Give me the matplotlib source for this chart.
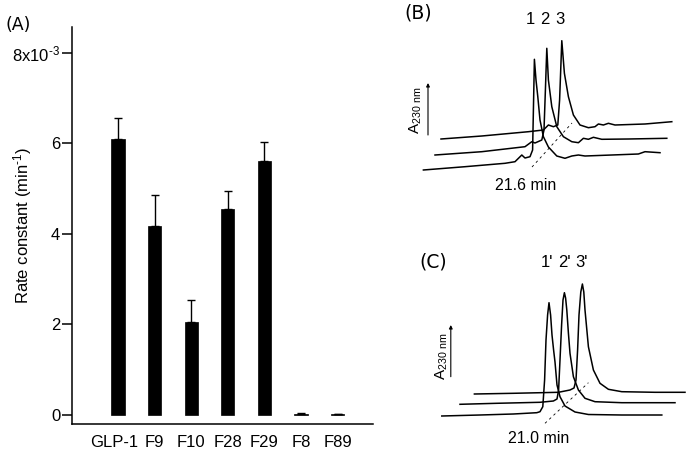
import matplotlib
matplotlib.use("Agg")
import matplotlib.pyplot as plt
from matplotlib.transforms import ScaledTranslation

plt.rcParams['font.family'] = ['Liberation Sans', 'DejaVu Sans']
plt.rcParams['mathtext.fontset'] = 'custom'
plt.rcParams['mathtext.rm'] = 'Liberation Sans'
plt.rcParams['mathtext.it'] = 'Liberation Sans:italic'
plt.rcParams['mathtext.bf'] = 'Liberation Sans:bold'

# ---------------- Panel A data (rate constants, units of 1e-3 min^-1) ----------------
categories = ["GLP-1", "F9", "F10", "F28", "F29", "F8", "F89"]
rate_constant_e3 = [6.10, 4.18, 2.06, 4.55, 5.61, 0.02, 0.01]
rate_error_e3 = [0.46, 0.68, 0.49, 0.40, 0.42, 0.02, 0.0]
ytick_values = [0, 2, 4, 6, 8]
ytick_labels = ["0", "2", "4", "6", r"8x10$^{\text{-3}}$"]

# ---------------- Panel B chromatograms (time in min, absorbance arb. units, offset traces) ----------------
b1_t = [16.17, 18.25, 20.25, 20.75, 21.09, 21.25, 21.50, 21.63, 21.68, 21.72, 21.80, 21.89, 22.00,
        22.17, 22.42, 22.84, 23.25, 23.59, 23.92, 24.25, 25.59, 26.92, 27.25, 28.00]
b1_a = [10, 13.3, 16.7, 18.3, 25, 22, 23.3, 30, 80, 120.7, 100, 83.3, 60,
        43.3, 33, 24, 21.7, 24, 25, 24, 25, 26, 28.3, 27.3]
b2_t = [16.75, 19.09, 21.25, 21.59, 21.75, 22.09, 22.20, 22.27, 22.34, 22.42, 22.59, 22.84, 23.17,
        23.59, 23.92, 24.17, 24.42, 24.67, 25.09, 26.42, 28.34]
b2_a = [25, 28.3, 33.3, 38.3, 37, 40, 50, 90, 131.7, 100, 73.3, 53.3, 43.3,
        38.3, 37.3, 41.7, 40.7, 42.7, 40.7, 41, 41.7]
b3_t = [17.05, 19.09, 21.42, 22.17, 22.42, 22.67, 22.89, 22.98, 23.09, 23.22, 23.42, 23.67, 24.00,
        24.42, 24.75, 24.92, 25.17, 25.42, 25.75, 27.25, 28.59]
b3_a = [41, 44, 48.3, 50, 55, 53.3, 55, 80, 139.3, 106.7, 83.3, 65, 55,
        52.3, 53.3, 56, 55, 56.7, 55, 56, 58.3]
b_dash_t = [21.6, 23.6]
b_dash_a = [13, 57]
b_peak_labels = ["1", "2", "3"]
b_peak_label_t = [21.50, 22.22, 23.02]

# ---------------- Panel C chromatograms ----------------
c1_t = [15.94, 17.85, 19.52, 20.69, 20.85, 20.99, 21.08, 21.15, 21.23, 21.30, 21.38, 21.45, 21.53,
        21.60, 21.70, 21.85, 22.10, 22.60, 23.27, 24.94, 26.94]
c1_a = [14, 15, 16, 17.3, 18.3, 23.3, 50, 90, 115, 127.3, 115, 95, 80,
        68, 45, 33.3, 24, 18, 15.5, 15, 15]
c2_t = [16.85, 18.69, 20.85, 21.52, 21.70, 21.78, 21.85, 21.93, 22.00, 22.07, 22.13, 22.19, 22.27,
        22.35, 22.52, 22.77, 23.10, 23.60, 24.94, 27.60]
c2_a = [25.7, 26.7, 27.7, 29, 31, 40, 70, 105, 130, 137.3, 132, 120, 97,
        76.7, 53.3, 40, 31.7, 28.3, 27.3, 27.3]
c3_t = [17.57, 19.52, 21.77, 22.35, 22.55, 22.65, 22.73, 22.80, 22.89, 22.97, 23.04, 23.10, 23.27,
        23.52, 23.85, 24.27, 24.94, 26.60, 28.10]
c3_a = [36, 36.7, 37.7, 40, 42, 50, 80, 115, 138, 146, 138, 120, 83.3,
        60, 46.7, 40.7, 38.3, 37.7, 37.7]
c_dash_t = [21.1, 23.27]
c_dash_a = [6.7, 47.3]
c_peak_labels = ["1'", "2'", "3'"]
c_peak_label_t = [21.18, 22.07, 22.93]

fig = plt.figure(figsize=(6.95, 4.57), dpi=100)

# ---------------- Panel A ----------------
axA = fig.add_axes([72 / 695, 1 - 424 / 457, 301 / 695, 397 / 457])
x = list(range(len(categories)))
axA.bar(x, rate_constant_e3, width=0.36, color='black', edgecolor='black', linewidth=0.5)
axA.errorbar(x, rate_constant_e3, yerr=[[0] * len(x), rate_error_e3], fmt='none',
             ecolor='black', elinewidth=1.0, capsize=3.0, capthick=1.0)
axA.set_xlim(-1.257, 6.967)
axA.set_ylim(-0.2, 8.575)
axA.set_yticks(ytick_values)
axA.set_yticklabels(ytick_labels)
axA.set_xticks(x)
axA.set_xticklabels(categories)
for s in ['top', 'right']:
    axA.spines[s].set_visible(False)
for s in ['left', 'bottom']:
    axA.spines[s].set_linewidth(1.1)
axA.tick_params(axis='y', direction='out', length=7, width=1.1, labelsize=12, pad=1.5)
axA.tick_params(axis='x', length=0, labelsize=12, pad=8)
# first category label sits slightly left of its bar in the original
lbl0 = axA.get_xticklabels()[0]
lbl0.set_transform(lbl0.get_transform() + ScaledTranslation(-4 / 100, 0, fig.dpi_scale_trans))
axA.set_ylabel(r"Rate constant (min$^{\text{-1}}$)", fontsize=12)
axA.yaxis.set_label_coords(-0.125, 0.5)
fig.text(18 / 695, 1 - 24.5 / 457, "(A)", ha='center', va='center', fontsize=12.5,
         family=['DejaVu Sans'])

# ---------------- Panel B ----------------
axB = fig.add_axes([400 / 695, 1 - 200 / 457, 295 / 695, 200 / 457])
axB.set_xlim(15.0, 29.75)
axB.set_ylim(-20, 180)
axB.axis('off')
for tt, aa in [(b1_t, b1_a), (b2_t, b2_a), (b3_t, b3_a)]:
    axB.plot(tt, aa, color='black', lw=1.1, solid_joinstyle='round')
axB.plot(b_dash_t, b_dash_a, color='black', lw=0.6, ls=(0, (3, 4)))
for lab, tt in zip(b_peak_labels, b_peak_label_t):
    axB.text(tt, 160.7, lab, ha='center', va='center', fontsize=12)
axB.text(21.29, -5, "21.6 min", ha='center', va='center', fontsize=11.5)
axB.text(15.92, 166.7, "(B)", ha='center', va='center', fontsize=13.5, family=['DejaVu Sans'])
axB.text(15.8, 70, r"A$_{\mathrm{230\ nm}}$", rotation=90, ha='center', va='center', fontsize=11)
axB.annotate('', xy=(16.4, 97), xytext=(16.4, 45),
             arrowprops=dict(arrowstyle='-|>', lw=0.8, color='black', mutation_scale=5,
                             shrinkA=0, shrinkB=0))

# ---------------- Panel C ----------------
axC = fig.add_axes([400 / 695, 0, 295 / 695, 257 / 457])
axC.set_xlim(13.85, 28.6)
axC.set_ylim(-27, 230)
axC.axis('off')
for tt, aa in [(c1_t, c1_a), (c2_t, c2_a), (c3_t, c3_a)]:
    axC.plot(tt, aa, color='black', lw=1.1, solid_joinstyle='round')
axC.plot(c_dash_t, c_dash_a, color='black', lw=0.6, ls=(0, (3, 4)))
for lab, tt in zip(c_peak_labels, c_peak_label_t):
    axC.text(tt, 167.3, lab, ha='center', va='center', fontsize=12)
axC.text(20.77, -8.3, "21.0 min", ha='center', va='center', fontsize=11.5)
axC.text(15.52, 168.3, "(C)", ha='center', va='center', fontsize=13.5, family=['DejaVu Sans'])
axC.text(15.95, 74, r"A$_{\mathrm{230\ nm}}$", rotation=90, ha='center', va='center', fontsize=11)
axC.annotate('', xy=(16.39, 105), xytext=(16.39, 53.3),
             arrowprops=dict(arrowstyle='-|>', lw=0.8, color='black', mutation_scale=5,
                             shrinkA=0, shrinkB=0))

fig.savefig("out.png", dpi=100)
